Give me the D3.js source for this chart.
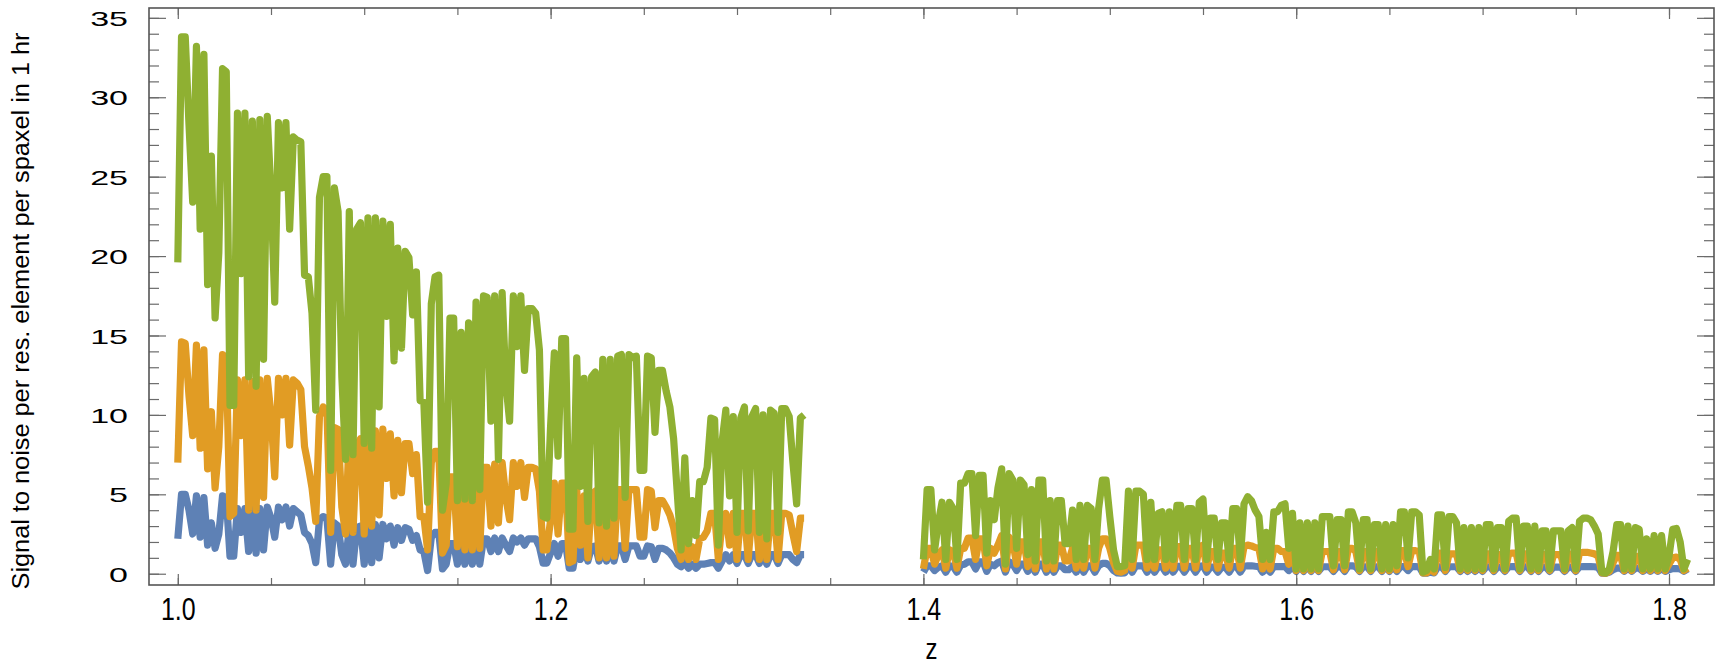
<!DOCTYPE html>
<html>
<head>
<meta charset="utf-8">
<script src="https://cdn.jsdelivr.net/npm/d3@7"></script>
<style>
  html, body { margin: 0; padding: 0; background: #fff; }
  svg { display: block; }
  .tick text { fill: #000; }
</style>
</head>
<body>
<svg id="chart" width="1715" height="666"></svg>
<script>
// Redshift sample grids of the two observing windows
const zLow  = d3.range(0, 169).map(i => +(1.000 + i * 0.002).toFixed(3));
const zHigh = d3.range(0, 206).map(i => +(1.400 + i * 0.002).toFixed(3));

// Signal to noise, low-z window (1.000 - 1.336)
const snBlueLow = [2.2,5.0,5.0,4.0,2.5,4.9,2.3,4.8,1.8,3.2,1.6,2.5,4.9,4.8,1.1,1.1,4.1,2.6,4.1,1.4,
  4.1,1.3,4.1,1.5,4.2,3.5,2.3,4.2,3.4,4.2,3.0,4.1,3.9,3.7,2.6,2.4,1.9,0.7,3.4,3.6,
  3.5,0.6,3.2,3.0,1.2,0.6,3.0,0.6,2.9,3.0,0.6,3.1,0.7,3.1,1.0,3.1,2.2,3.0,1.8,2.9,
  2.1,2.9,2.8,2.1,2.4,1.5,1.4,0.2,2.3,2.6,2.6,0.3,0.6,1.9,1.9,0.6,1.8,0.6,1.9,0.6,
  1.9,0.6,2.2,2.2,1.4,2.25,1.4,2.25,1.8,1.4,2.25,2.0,2.25,1.8,2.2,2.2,2.2,1.7,0.67,0.67,
  1.3,1.9,1.1,1.9,1.9,0.35,0.35,1.75,0.9,1.7,0.8,1.7,1.75,0.8,1.75,0.8,1.75,0.8,1.75,1.75,
  0.9,1.75,1.75,1.75,1.1,1.1,1.75,1.7,0.9,1.6,1.6,1.5,1.3,1.0,0.6,0.44,0.7,0.35,0.6,0.35,
  0.6,0.6,0.65,0.7,0.7,0.35,0.8,1.2,0.8,1.2,0.65,1.2,1.2,0.65,1.2,1.2,0.65,1.2,0.6,1.2,
  1.2,0.65,1.2,1.2,1.2,0.9,0.7,1.2,1.2];
const snOrangeLow = [7.0,14.6,14.5,11.2,8.7,14.4,7.9,14.1,6.6,10.2,5.4,8.0,13.8,13.6,3.6,3.8,12.2,8.7,12.2,4.0,
  12.1,4.0,12.2,4.8,12.3,10.0,6.1,12.3,10.0,12.3,8.1,12.2,12.0,11.6,8.0,6.8,5.4,3.3,9.9,10.5,
  10.3,2.6,9.2,9.1,4.2,2.5,9.1,2.6,8.1,8.5,2.5,9.0,3.0,9.0,3.7,9.1,6.0,8.8,4.9,8.4,
  5.1,8.2,8.2,6.3,7.5,3.6,3.6,1.5,7.0,7.7,7.7,1.3,1.8,6.1,6.1,1.7,5.6,1.5,5.8,1.5,
  5.9,1.6,6.7,6.7,3.0,6.9,3.2,7.0,4.8,3.4,7.0,5.5,7.0,4.8,6.7,6.7,6.6,5.2,1.5,1.5,
  3.4,5.7,2.5,5.7,5.7,0.7,0.8,5.3,1.8,4.9,1.0,5.0,5.2,1.0,5.3,1.0,5.3,1.1,5.3,5.3,
  1.6,5.3,5.3,5.3,2.3,2.3,5.3,5.2,2.9,4.6,4.6,4.2,3.7,2.9,1.6,0.9,2.6,0.9,1.7,0.9,
  2.2,2.3,2.7,3.8,3.8,0.9,3.2,3.8,1.8,3.8,0.9,3.8,3.8,0.9,3.8,3.8,0.9,3.8,0.9,3.8,
  3.8,0.9,3.8,3.8,3.7,2.5,1.4,3.5,3.5];
const snGreenLow = [19.6,33.8,33.8,28.3,23.4,33.2,21.7,32.7,18.2,26.3,16.1,20.2,31.8,31.6,10.6,10.6,29.0,18.9,29.0,12.4,
  28.5,11.8,28.6,13.5,28.8,24.0,17.1,28.4,24.3,28.4,21.7,27.5,27.3,27.2,18.8,18.7,16.4,10.3,23.7,25.0,
  25.0,6.5,24.3,22.8,12.4,7.2,22.8,7.5,21.7,22.1,8.2,22.4,7.9,22.4,10.5,22.2,16.2,22.0,13.4,20.5,
  14.2,20.3,19.9,16.3,19.0,10.9,10.8,4.5,17.0,18.7,18.8,4.0,5.7,16.1,16.1,4.6,15.2,4.7,15.8,4.6,
  17.1,5.3,17.5,17.4,9.6,17.5,7.2,17.7,12.0,9.6,17.5,14.3,17.5,12.8,16.7,16.7,16.4,14.1,3.6,3.5,
  9.3,13.9,7.4,14.8,14.8,2.8,2.8,13.6,5.5,12.3,3.3,12.4,12.7,3.2,13.5,3.0,13.5,3.5,13.7,13.8,
  4.8,13.8,13.6,13.7,6.5,6.5,13.7,13.6,8.9,12.8,12.8,11.5,10.5,8.5,5.0,1.5,7.3,1.9,4.6,2.4,
  5.8,5.8,6.7,9.8,9.7,1.8,8.3,10.3,4.9,9.9,2.6,9.8,10.5,2.7,9.9,10.4,2.6,10.0,2.2,10.3,
  10.1,2.6,10.4,10.4,9.9,7.0,4.4,9.8,10.0];

// Signal to noise, high-z window (1.400 - 1.810)
const snBlueHigh = [0.1,0.5,0.5,0.2,0.4,0.5,0.1,0.5,0.45,0.1,0.55,0.6,0.75,0.75,0.3,0.75,0.75,0.15,0.6,0.5,
  0.7,0.8,0.1,0.75,0.6,0.2,0.6,0.6,0.15,0.55,0.1,0.6,0.6,0.1,0.5,0.1,0.5,0.5,0.25,0.25,
  0.45,0.1,0.5,0.1,0.5,0.5,0.1,0.5,0.65,0.65,0.5,0.2,0.05,0.03,0.05,0.5,0.1,0.5,0.5,0.5,
  0.1,0.47,0.1,0.45,0.45,0.1,0.45,0.1,0.47,0.47,0.1,0.47,0.47,0.1,0.47,0.5,0.1,0.42,0.42,0.1,
  0.4,0.4,0.1,0.45,0.45,0.1,0.47,0.5,0.5,0.47,0.45,0.1,0.35,0.1,0.45,0.45,0.45,0.45,0.2,0.44,
  0.15,0.44,0.15,0.44,0.15,0.44,0.15,0.44,0.44,0.44,0.15,0.44,0.44,0.15,0.5,0.5,0.44,0.15,0.44,0.44,
  0.15,0.44,0.44,0.15,0.44,0.15,0.44,0.15,0.45,0.45,0.2,0.45,0.45,0.44,0.03,0.03,0.1,0.05,0.44,0.44,
  0.15,0.44,0.44,0.44,0.15,0.42,0.15,0.42,0.15,0.42,0.15,0.44,0.44,0.15,0.42,0.42,0.15,0.44,0.45,0.45,
  0.15,0.44,0.44,0.15,0.44,0.15,0.42,0.42,0.15,0.42,0.42,0.42,0.15,0.42,0.42,0.15,0.44,0.45,0.45,0.45,
  0.44,0.4,0.03,0.02,0.1,0.25,0.35,0.35,0.15,0.35,0.15,0.35,0.35,0.15,0.32,0.15,0.32,0.15,0.32,0.15,
  0.25,0.32,0.33,0.3,0.15,0.3];
const snOrangeHigh = [0.3,1.6,1.6,0.6,1.2,1.5,0.35,1.5,1.4,0.35,1.6,1.6,2.25,2.25,0.9,2.2,2.2,0.5,1.6,1.3,
  1.8,2.4,0.3,2.3,2.0,0.6,2.0,2.0,0.45,2.0,0.3,2.0,2.0,0.3,1.8,0.3,1.8,1.8,0.8,0.8,
  1.6,0.35,1.6,0.35,1.6,1.6,0.35,1.6,2.2,2.2,1.6,0.7,0.15,0.1,0.2,1.8,0.35,1.8,1.8,1.8,
  0.35,1.7,0.35,1.5,1.5,0.35,1.5,0.35,1.7,1.7,0.35,1.6,1.6,0.35,1.7,1.8,0.35,1.4,1.4,0.35,
  1.3,1.3,0.35,1.6,1.6,0.35,1.7,1.8,1.75,1.65,1.6,0.3,1.1,0.3,1.6,1.6,1.4,1.4,0.6,1.35,
  0.2,1.35,0.2,1.35,0.2,1.35,0.2,1.4,1.4,1.4,0.25,1.4,1.4,0.25,1.6,1.6,1.4,0.2,1.4,1.4,
  0.2,1.4,1.4,0.2,1.4,0.2,1.4,0.25,1.45,1.45,0.45,1.45,1.45,1.4,0.05,0.05,0.3,0.1,1.3,1.3,
  0.2,1.25,1.25,1.25,0.2,1.2,0.2,1.2,0.2,1.2,0.2,1.25,1.25,0.2,1.2,1.2,0.2,1.25,1.3,1.3,
  0.2,1.25,1.25,0.2,1.25,0.2,1.2,1.2,0.2,1.2,1.2,1.2,0.2,1.2,1.25,0.2,1.3,1.35,1.35,1.3,
  1.25,1.1,0.05,0.03,0.15,0.7,1.15,1.15,0.2,1.15,0.2,1.1,1.1,0.2,1.0,0.2,1.0,0.2,1.0,0.2,
  0.6,1.0,1.05,0.9,0.2,0.35];
const snGreenHigh = [0.9,5.3,5.3,1.5,3.2,4.5,0.9,4.5,4.1,0.9,5.7,5.7,6.3,6.3,2.4,6.2,6.2,1.3,4.6,3.4,
  5.4,6.6,0.6,6.3,5.9,1.6,5.9,5.6,1.2,5.3,0.8,5.9,5.9,0.8,4.6,0.8,4.6,4.6,1.9,1.9,
  4.0,0.9,4.3,0.9,4.3,4.1,0.9,4.1,5.9,5.9,3.6,1.5,0.45,0.45,0.5,5.2,0.9,5.2,5.2,5.0,
  0.9,4.5,0.9,3.8,3.9,0.9,3.9,0.9,4.3,4.3,0.9,4.1,4.1,0.9,4.5,4.7,0.9,3.5,3.5,0.9,
  3.2,3.2,0.9,4.1,4.1,0.9,4.4,4.85,4.6,4.0,3.6,0.9,2.6,0.9,3.9,3.9,4.3,4.4,1.6,3.8,
  0.3,3.2,0.3,3.2,0.3,3.2,0.3,3.6,3.6,3.6,0.5,3.4,3.4,0.5,3.9,3.9,3.2,0.3,3.4,3.4,
  0.3,3.1,3.1,0.3,3.1,0.3,3.1,0.5,3.9,3.9,1.0,3.9,3.9,3.7,0.1,0.2,0.9,0.3,3.7,3.7,
  0.4,3.6,3.6,3.2,0.3,2.9,0.3,2.9,0.3,2.9,0.3,3.1,3.1,0.3,2.9,2.9,0.3,3.3,3.5,3.5,
  0.3,3.0,3.0,0.3,3.0,0.3,2.7,2.7,0.3,2.7,2.7,2.7,0.3,2.7,2.9,0.3,3.3,3.5,3.5,3.4,
  3.0,2.5,0.1,0.05,0.3,1.4,3.1,3.1,0.3,3.0,0.3,2.9,2.8,0.3,2.2,0.3,2.4,0.3,2.4,0.3,
  1.1,2.8,2.85,2.0,0.3,0.9];

// Axis ticks
const xMajorTicks = [1.0, 1.2, 1.4, 1.6, 1.8];
const xTickLabels = ["1.0", "1.2", "1.4", "1.6", "1.8"];
const xMinorTicks = [1.0,1.05,1.1,1.15,1.2,1.25,1.3,1.35,1.4,1.45,1.5,1.55,1.6,1.65,1.7,1.75,1.8];
const yMajorTicks = [0, 5, 10, 15, 20, 25, 30, 35];
const yMinorTicks = d3.range(0, 36);

const colors = { blue: "#5E81B5", orange: "#E19C24", green: "#8FB032" };

const svg = d3.select("#chart");
const frame = { left: 149, right: 1714, top: 8, bottom: 585 };

const x = d3.scaleLinear().domain([0.98455, 1.82414]).range([frame.left, frame.right]);
const y = d3.scaleLinear().domain([-0.71, 35.62]).range([frame.bottom, frame.top]);

svg.append("defs").append("clipPath").attr("id", "plotClip")
  .append("rect")
  .attr("x", frame.left).attr("y", frame.top)
  .attr("width", frame.right - frame.left).attr("height", frame.bottom - frame.top);

// Series: drawn blue, then orange, then green on top
const series = [
  { color: colors.blue,   parts: [[zLow, snBlueLow],   [zHigh, snBlueHigh]] },
  { color: colors.orange, parts: [[zLow, snOrangeLow], [zHigh, snOrangeHigh]] },
  { color: colors.green,  parts: [[zLow, snGreenLow],  [zHigh, snGreenHigh]] }
];

const line = d3.line().x(d => x(d[0])).y(d => y(d[1]));
const plot = svg.append("g").attr("clip-path", "url(#plotClip)");
series.forEach(s => {
  s.parts.forEach(([zs, vs]) => {
    const pts = zs.map((z, i) => [z, vs[i]]);
    plot.append("path")
      .attr("d", line(pts))
      .attr("fill", "none")
      .attr("stroke", s.color)
      .attr("stroke-width", 7.2)
      .attr("stroke-linejoin", "round")
      .attr("stroke-linecap", "butt");
  });
});

// Frame ticks (pointing inward) on all four sides
const tickColor = "#6b6b6b";
function styleAxis(g) {
  g.select(".domain").remove();
  g.selectAll(".tick line").attr("stroke", tickColor).attr("stroke-width", 1.2);
}

svg.append("g").attr("transform", `translate(${frame.left},0)`)
  .call(d3.axisLeft(y).tickValues(yMinorTicks).tickSize(-10).tickFormat(""))
  .call(styleAxis);
svg.append("g").attr("transform", `translate(${frame.right},0)`)
  .call(d3.axisRight(y).tickValues(yMinorTicks).tickSize(-10).tickFormat(""))
  .call(styleAxis);
svg.append("g").attr("transform", `translate(${frame.right},0)`)
  .call(d3.axisRight(y).tickValues(yMajorTicks).tickSize(-17).tickFormat(""))
  .call(styleAxis);

const yAxis = svg.append("g").attr("transform", `translate(${frame.left},0)`)
  .call(d3.axisLeft(y).tickValues(yMajorTicks).tickSize(-17).tickPadding(21).tickFormat(d3.format("d")))
  .call(styleAxis);
yAxis.selectAll(".tick text")
  .attr("font-family", "'Liberation Sans', Arial, sans-serif")
  .attr("font-size", 21)
  .attr("text-anchor", "end")
  .attr("dy", "0.36em")
  .attr("transform", `translate(-21,0) scale(1.62,1) translate(21,0)`);

svg.append("g").attr("transform", `translate(0,${frame.bottom})`)
  .call(d3.axisBottom(x).tickValues(xMinorTicks).tickSize(-7).tickFormat(""))
  .call(styleAxis);
svg.append("g").attr("transform", `translate(0,${frame.top})`)
  .call(d3.axisTop(x).tickValues(xMinorTicks).tickSize(-7).tickFormat(""))
  .call(styleAxis);
svg.append("g").attr("transform", `translate(0,${frame.top})`)
  .call(d3.axisTop(x).tickValues(xMajorTicks).tickSize(-11).tickFormat(""))
  .call(styleAxis);

const xAxis = svg.append("g").attr("transform", `translate(0,${frame.bottom})`)
  .call(d3.axisBottom(x).tickValues(xMajorTicks).tickSize(-11).tickPadding(12)
    .tickFormat((d, i) => xTickLabels[i]))
  .call(styleAxis);
xAxis.selectAll(".tick text")
  .attr("font-family", "'Liberation Sans', Arial, sans-serif")
  .attr("font-size", 32)
  .attr("dy", "0.71em")
  .attr("transform", "scale(0.78,1)");

// Frame
svg.append("rect")
  .attr("x", frame.left).attr("y", frame.top)
  .attr("width", frame.right - frame.left).attr("height", frame.bottom - frame.top)
  .attr("fill", "none").attr("stroke", "#555").attr("stroke-width", 1.6);

// Axis titles
svg.append("text")
  .attr("transform", `translate(${(frame.left + frame.right) / 2},659) scale(0.8,1)`)
  .attr("text-anchor", "middle")
  .attr("font-family", "'Liberation Sans', Arial, sans-serif")
  .attr("font-size", 30)
  .text("z");

svg.append("text")
  .attr("transform", "translate(29,311) rotate(-90)")
  .attr("text-anchor", "middle")
  .attr("font-family", "'Liberation Sans', Arial, sans-serif")
  .attr("font-size", 23)
  .attr("textLength", 557)
  .attr("lengthAdjust", "spacingAndGlyphs")
  .text("Signal to noise per res. element per spaxel in 1 hr");
</script>
</body>
</html>
